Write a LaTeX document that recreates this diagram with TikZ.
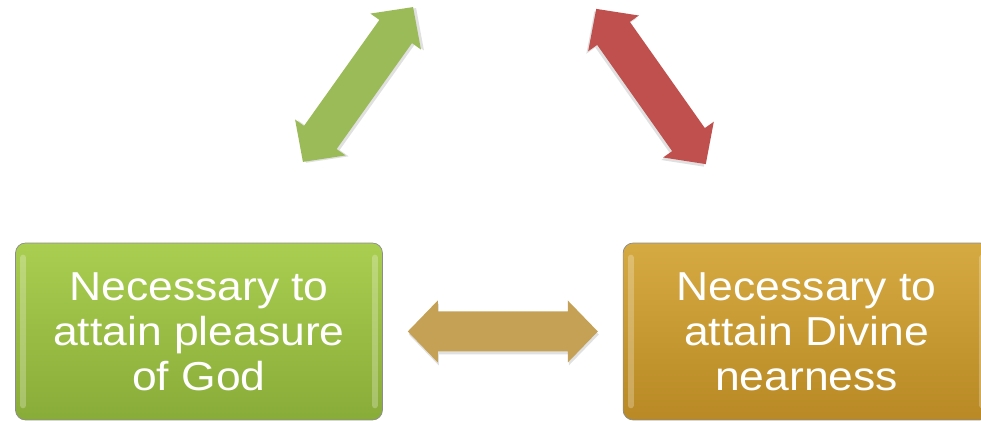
\documentclass[tikz,border=0pt]{standalone}
\usepackage{fontspec}
\setmainfont{Liberation Sans}[FakeStretch=1.1]
\usepackage{tikz}
\usetikzlibrary{shapes.geometric, arrows, positioning}
\definecolor{greentop}{RGB}{170,206,80}
\definecolor{greenbottom}{RGB}{136,172,56}
\definecolor{goldtop}{RGB}{214,170,66}
\definecolor{goldbottom}{RGB}{184,137,36}
\definecolor{arrowgreen}{RGB}{155,187,89}
\definecolor{arrowred}{RGB}{192,80,77}
\definecolor{arrowgold}{RGB}{196,161,85}
\tikzset{pics/twoway/.style={code={
        \path [fill=black, opacity=0.12] (-94,-3) -- (-64,28) -- (-64,17) -- (66,17) -- (66,28) -- (96,-3) -- (66,-34) -- (66,-23) -- (-64,-23) -- (-64,-34) -- cycle;
        \path [pic actions] (-95,0) -- (-65,31) -- (-65,20) -- (65,20) -- (65,31) -- (95,0) -- (65,-31) -- (65,-20) -- (-65,-20) -- (-65,-31) -- cycle;
}}}

\begin{document}
\begin{tikzpicture}[x=0.02cm, y=0.02cm]
        \tikzstyle{box} = [rectangle, rounded corners=0.2cm, minimum width=7.34cm, minimum height=3.54cm, align=center, text=white, font=\fontsize{23}{25.6}\selectfont, draw=black!45, line width=0.4pt]
        \tikzstyle{bevel} = [line width=0.12cm, white, opacity=0.25, line cap=round]

        \useasboundingbox (0,0) rectangle (981,422);

        \node (pleasure) [box, top color=greentop, bottom color=greenbottom] at (199,90.5) {Necessary to\\attain pleasure\\of God};
        \node (nearness) [box, top color=goldtop, bottom color=goldbottom, right=4.8cm of pleasure] {Necessary to\\attain Divine\\nearness};

        \draw [bevel] ([xshift=0.16cm, yshift=-0.3cm]pleasure.north west) -- ([xshift=0.16cm, yshift=0.3cm]pleasure.south west);
        \draw [bevel] ([xshift=-0.16cm, yshift=-0.3cm]pleasure.north east) -- ([xshift=-0.16cm, yshift=0.3cm]pleasure.south east);
        \draw [bevel] ([xshift=0.16cm, yshift=-0.3cm]nearness.north west) -- ([xshift=0.16cm, yshift=0.3cm]nearness.south west);
        \draw [bevel] ([xshift=-0.16cm, yshift=-0.3cm]nearness.north east) -- ([xshift=-0.16cm, yshift=0.3cm]nearness.south east);

        \coordinate (greenfoot) at (305,263);
        \coordinate (greenhead) at (411,412);
        \coordinate (redhead) at (597,412);
        \coordinate (redfoot) at (705,259);

        \path (greenfoot) -- (greenhead) pic [fill=arrowgreen, midway, sloped] {twoway};
        \path (redhead) -- (redfoot) pic [fill=arrowred, midway, sloped] {twoway};
        \path (pleasure) -- (nearness) pic [fill=arrowgold, midway] {twoway};
    \end{tikzpicture}
\end{document}
